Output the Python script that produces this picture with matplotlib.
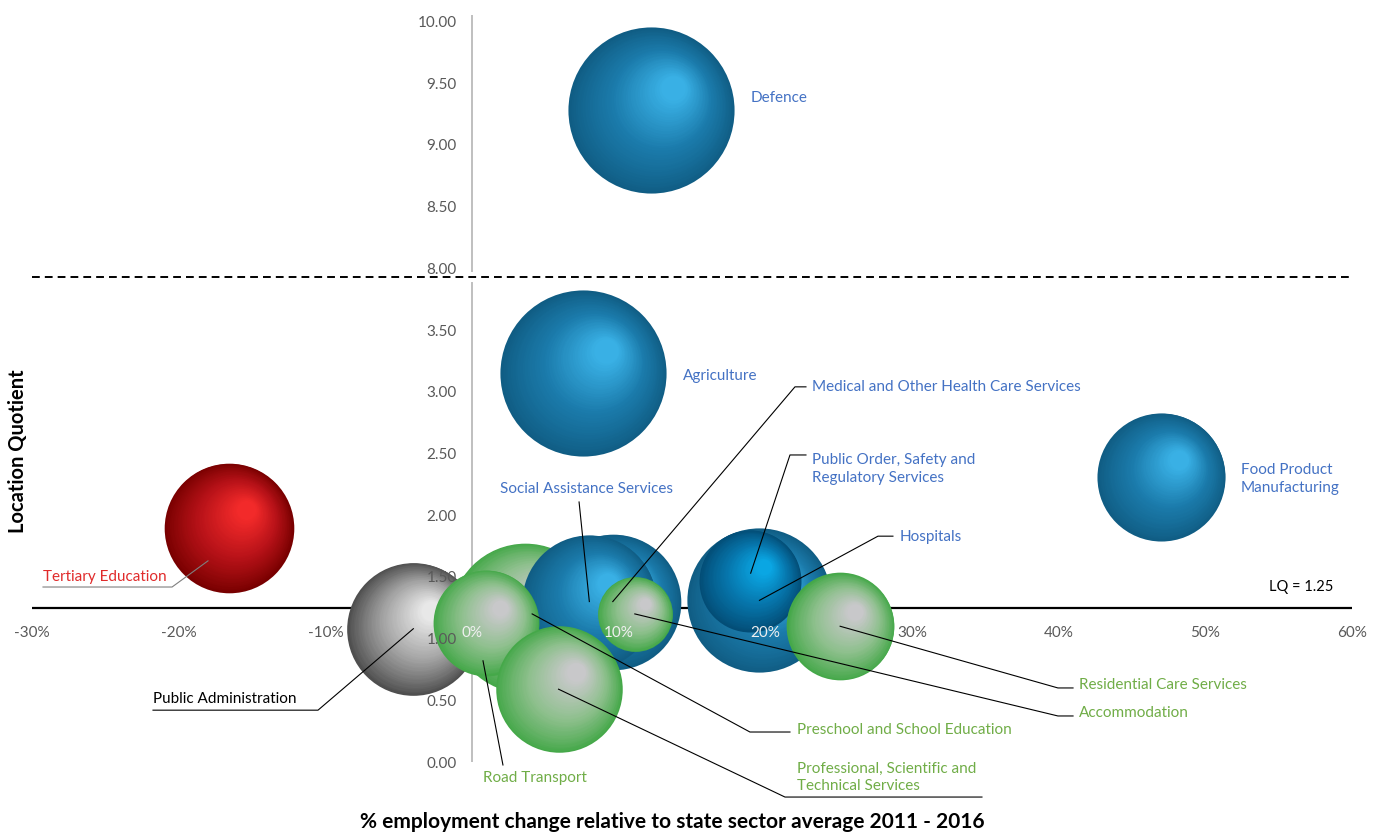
import matplotlib
matplotlib.use("Agg")
import matplotlib.pyplot as plt
import numpy as np
from matplotlib import transforms
from matplotlib.colors import to_rgb

plt.rcParams["font.family"] = ["Lato", "DejaVu Sans"]

# industries, drawn in this order (later ones sit on top)
industries = ["Defence", "Agriculture", "Food Product Manufacturing", "Tertiary Education",
              "Public Administration", "Preschool and School Education",
              "Medical and Other Health Care Services", "Social Assistance Services",
              "Hospitals", "Public Order, Safety and Regulatory Services", "Road Transport",
              "Professional, Scientific and Technical Services", "Accommodation",
              "Residential Care Services"]
# % employment change relative to state sector average 2011-2016
emp_change = [12.2, 7.6, 47.0, -16.6, -4.0, 3.6, 9.6, 8.0, 19.6, 18.95, 0.95, 5.9, 11.1, 25.1]
# location quotient
lq = [9.28, 3.15, 2.31, 1.90, 1.08, 1.17, 1.30, 1.30, 1.31, 1.47, 1.13, 0.59, 1.20, 1.10]
# bubble size (relative employment)
bubble_size = [69, 69, 41, 42, 44, 56, 46, 45, 52, 26, 28, 40, 14, 29]
group = ["blue", "blue", "blue", "red", "grey", "green", "blue", "blue", "blue", "dblue",
         "green", "green", "green", "green"]

lq_line = 1.25
lower_ticks = [0, 0.5, 1.0, 1.5, 2.0, 2.5, 3.0, 3.5]
upper_ticks = [8.0, 8.5, 9.0, 9.5, 10.0]
x_ticks = [-30, -20, -10, 0, 10, 20, 30, 40, 50, 60]

# broken y axis: values from 8 up are shifted down by 4
SHIFT = 4.0


def ypos(v):
    return v - SHIFT if v >= 7.5 else v


palettes = {
    "blue": ["#105d84", "#1b7bab", "#39b0e5"],
    "dblue": ["#034d76", "#0675ab", "#0aa6e3"],
    "red": ["#780000", "#b71218", "#f22a2a"],
    "grey": ["#4f4f4f", "#a3a3a3", "#e8e8e8"],
    "green": ["#45a849", "#8fc08e", "#c8c8ca"],
}
text_colors = {"blue": "#4472C4", "dblue": "#4472C4", "green": "#70AD47",
               "red": "#E02B2B", "grey": "#000000"}


def grad(stops, t):
    c = [np.array(to_rgb(s)) for s in stops]
    if t < 0.5:
        return c[0] + (c[1] - c[0]) * t / 0.5
    return c[1] + (c[2] - c[1]) * (t - 0.5) / 0.5


fig = plt.figure(figsize=(13.84, 8.36), dpi=100)
ax = fig.add_axes([32 / 1384, 74 / 836, 1320 / 1384, (762 - 15.4) / 836])
ax.set_xlim(-30, 60)
ax.set_ylim(0, 6.05)
ax.set_axisbelow(False)

for s in ax.spines.values():
    s.set_visible(False)
ax.spines["left"].set_position(("data", 0))
ax.spines["bottom"].set_position(("data", lq_line))

ax.set_xticks(x_ticks)
ax.set_xticklabels([f"{v}%" for v in x_ticks])
ytick_pos = lower_ticks + [ypos(v) for v in upper_ticks]
ax.set_yticks(ytick_pos)
ax.set_yticklabels([f"{v:.2f}" for v in lower_ticks + upper_ticks])
ax.tick_params(axis="x", length=0, pad=13, labelsize=11)
ax.tick_params(axis="y", length=0, pad=11, labelsize=11, labelcolor="#595959")
for v, lab in zip(x_ticks, ax.get_xticklabels()):
    lab.set_color("#f0f0f0" if v in (0, 10, 20) else "#595959")

# reference lines
ax.axhline(lq_line, color="black", lw=1.6, zorder=0.6)
ax.axhline(3.93, color="black", lw=1.4, ls=(0, (4, 2.6)), zorder=0.6)
ax.plot([0, 0], [0, 3.88], color="#bfbfbf", lw=1.4, zorder=0.5)
ax.plot([0, 0], [3.98, 6.05], color="#bfbfbf", lw=1.4, zorder=0.5)
ax.text(58.7, 1.42, "LQ = 1.25", ha="right", va="center", fontsize=10.5, color="black")

# shaded bubbles
N = 40
px_per_pt = 100 / 72
for i, (xv, yv, sz, g) in enumerate(zip(emp_change, lq, bubble_size, group)):
    r = 10 * np.sqrt(sz)  # pixels
    for k in range(N):
        t = k / (N - 1)
        rk = r * (1 - 0.85 * t)
        off = 0.27 * r * t / px_per_pt
        tr = transforms.offset_copy(ax.transData, fig=fig, x=off, y=off, units="points")
        ax.scatter([xv], [ypos(yv)], s=(2 * rk / px_per_pt) ** 2, color=[grad(palettes[g], t ** 0.9)],
                   transform=tr, linewidths=0, zorder=1 + i * 0.09 + k * 0.002, clip_on=False)

# data labels and leader lines (plot coordinates)
labels = {
    "Defence": dict(text="Defence", xy=(19.0, 5.38), ha="left", leader=None),
    "Agriculture": dict(text="Agriculture", xy=(14.4, 3.13), ha="left", leader=None),
    "Food Product Manufacturing": dict(text="Food Product\nManufacturing", xy=(52.4, 2.29),
                                       ha="left", leader=None),
    "Tertiary Education": dict(text="Tertiary Education", xy=(-29.25, 1.50), ha="left",
                               leader=[(-18.0, 1.63), (-20.45, 1.418), (-29.25, 1.418)],
                               lc="#7f7f7f"),
    "Public Administration": dict(text="Public Administration", xy=(-21.75, 0.51), ha="left",
                                  leader=["c", (-10.5, 0.42), (-21.75, 0.42)]),
    "Road Transport": dict(text="Road Transport", xy=(0.75, -0.13), ha="left",
                           leader=[(0.75, 0.82), (2.11, -0.024)]),
    "Professional, Scientific and Technical Services": dict(
        text="Professional, Scientific and\nTechnical Services", xy=(22.16, -0.125), ha="left",
        leader=["c", (21.34, -0.284), (34.77, -0.284)]),
    "Preschool and School Education": dict(text="Preschool and School Education", xy=(22.16, 0.26),
                                           ha="left", leader=[(4.1, 1.20), (18.95, 0.243), (21.68, 0.243)]),
    "Accommodation": dict(text="Accommodation", xy=(41.39, 0.397), ha="left",
                          leader=["c", (39.95, 0.373), (40.98, 0.373)]),
    "Residential Care Services": dict(text="Residential Care Services", xy=(41.39, 0.624), ha="left",
                                      leader=["c", (39.95, 0.60), (40.98, 0.60)]),
    "Hospitals": dict(text="Hospitals", xy=(29.18, 1.823), ha="left",
                      leader=["c", (27.68, 1.83), (28.7, 1.83)]),
    "Public Order, Safety and Regulatory Services": dict(
        text="Public Order, Safety and\nRegulatory Services", xy=(23.18, 2.374), ha="left",
        leader=[(19.0, 1.53), (21.68, 2.488), (22.77, 2.488)]),
    "Medical and Other Health Care Services": dict(
        text="Medical and Other Health Care Services", xy=(23.18, 3.04), ha="left",
        leader=["c", (22.02, 3.04), (22.77, 3.04)]),
    "Social Assistance Services": dict(text="Social Assistance Services", xy=(7.84, 2.21),
                                       ha="center", leader=["c", (7.3, 2.107)]),
}

for name, xv, yv, g in zip(industries, emp_change, lq, group):
    lab = labels[name]
    ax.text(*lab["xy"], lab["text"], ha=lab["ha"], va="center", fontsize=11,
            color=text_colors[g], linespacing=1.35, zorder=6, clip_on=False)
    if lab["leader"]:
        pts = [(xv, ypos(yv)) if p == "c" else p for p in lab["leader"]]
        xs, ys = zip(*pts)
        ax.plot(xs, ys, color=lab.get("lc", "black"), lw=0.8, zorder=5, clip_on=False)

fig.text(18 / 1384, 1 - 451 / 836, "Location Quotient", rotation=90, ha="center", va="center",
         fontsize=14.5, fontweight="bold")
fig.text(672 / 1384, 1 - 822 / 836, "% employment change relative to state sector average 2011 - 2016",
         ha="center", va="center", fontsize=15, fontweight="bold")

fig.savefig("out.png", dpi=100)
